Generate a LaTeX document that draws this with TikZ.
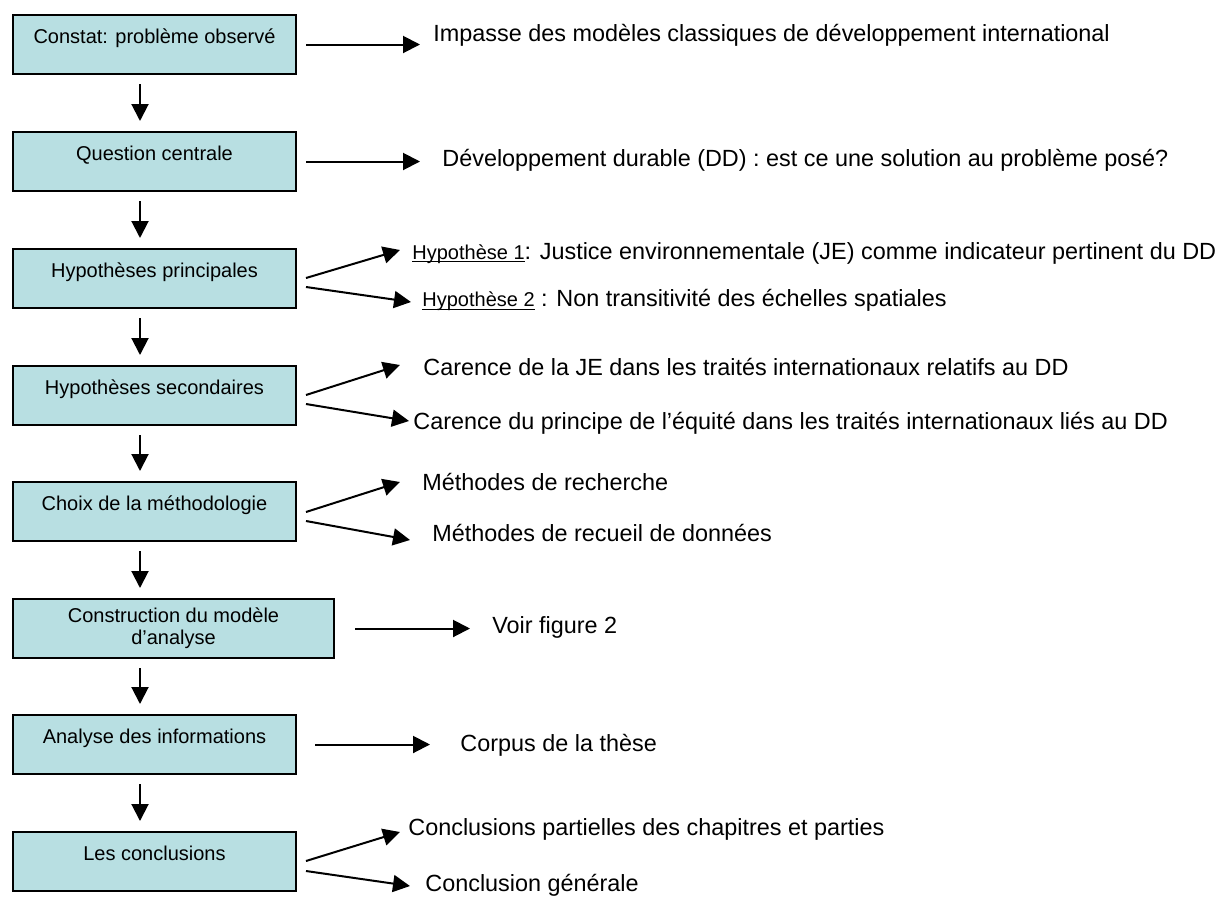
\documentclass[tikz,border=0pt]{standalone}
\usepackage{fontspec}
\setmainfont{Liberation Sans}
\usetikzlibrary{calc,positioning,arrows.meta}
\definecolor{boite}{RGB}{184,223,226}
\newcommand{\hyp}[1]{{\fontsize{10}{12}\selectfont\underline{\smash{#1}}}}

\begin{document}
\begin{tikzpicture}[x=0.5pt,y=-0.5pt,
etape/.style={draw,line width=1pt,fill=boite,anchor=north west,minimum width=141.5pt,minimum height=29.5pt,inner sep=0pt,font=\fontsize{10}{11}\selectfont,text height=7.5pt,text depth=9pt},
texte/.style={anchor=west,inner sep=0pt,font=\fontsize{11.7}{14}\selectfont},
fleche/.style={line width=1pt,-{Triangle[length=8.5pt,width=8.5pt]}}]
\useasboundingbox (0,0) rectangle (1232,906);
% les etapes
\node [etape] (Constat) at (12,14) {Constat: problème observé};
\node [etape] (Question) at (12,131) {Question centrale};
\node [etape] (HypPrinc) at (12,248) {Hypothèses principales};
\node [etape] (HypSec) at (12,365) {Hypothèses secondaires};
\node [etape] (Methodo) at (12,481) {Choix de la méthodologie};
\node [etape,minimum width=160.5pt,align=center,text height={},text depth={}] (Modele) at (12,598) {Construction du modèle\\d’analyse};
\node [etape] (Analyse) at (12,714) {Analyse des informations};
\node [etape] (Conclusions) at (12,831) {Les conclusions};
% les textes a droite
\node [texte] (Impasse) at (433,35) {Impasse des modèles classiques de développement international};
\node [texte] (DD) at (442,160) {Développement durable (DD) : est ce une solution au problème posé?};
\node [texte] (HypUn) at (412,253) {\hyp{Hypothèse 1}: Justice environnementale (JE) comme indicateur pertinent du DD};
\node [texte] (HypDeux) at (422,300) {\hyp{Hypothèse 2} : Non transitivité des échelles spatiales};
\node [texte] (CarenceJE) at (423,367) {Carence de la JE dans les traités internationaux relatifs au DD};
\node [texte] (CarenceEq) at (413,423) {Carence du principe de l’équité dans les traités internationaux liés au DD};
\node [texte] (Recherche) at (422,482) {Méthodes de recherche};
\node [texte] (Recueil) at (432,533) {Méthodes de recueil de données};
\node [texte] (Voir) at (492,627) {Voir figure 2};
\node [texte] (Corpus) at (460,745) {Corpus de la thèse};
\node [texte] (Partielles) at (408,829) {Conclusions partielles des chapitres et parties};
\node [texte] (Generale) at (425,885) {Conclusion générale};
% fleches verticales
\draw [fleche] ($(Constat.south)+(-14.5,9)$) -- ($(Question.north)+(-14.5,-10)$);
\draw [fleche] ($(Question.south)+(-14.5,9)$) -- ($(HypPrinc.north)+(-14.5,-10)$);
\draw [fleche] ($(HypPrinc.south)+(-14.5,9)$) -- ($(HypSec.north)+(-14.5,-10)$);
\draw [fleche] ($(HypSec.south)+(-14.5,9)$) -- ($(Methodo.north)+(-14.5,-10)$);
\draw [fleche] ($(Methodo.south)+(-14.5,9)$) -- ($(Methodo.south |- Modele.north)+(-14.5,-10)$);
\draw [fleche] ($(Analyse.north |- Modele.south)+(-14.5,9)$) -- ($(Analyse.north)+(-14.5,-10)$);
\draw [fleche] ($(Analyse.south)+(-14.5,9)$) -- ($(Conclusions.north)+(-14.5,-10)$);
% fleches vers la droite
\draw [fleche] ($(Constat.east)+(9,0)$) -- ($(Constat.east -| Impasse.west)+(-13,0)$);
\draw [fleche] ($(Question.east)+(9,0)$) -- ($(Question.east -| DD.west)+(-22,0)$);
\draw [fleche] ($(HypPrinc.east)+(9,-0.5)$) -- ($(HypUn.west)+(-12,-3)$);
\draw [fleche] ($(HypPrinc.east)+(9,8.5)$) -- ($(HypDeux.west)+(-11,2)$);
\draw [fleche] ($(HypSec.east)+(9,-0.5)$) -- ($(CarenceJE.west)+(-23,-2)$);
\draw [fleche] ($(HypSec.east)+(9,8.5)$) -- ($(CarenceEq.west)+(-4,-2)$);
\draw [fleche] ($(Methodo.east)+(9,0.5)$) -- ($(Recherche.west)+(-22,0)$);
\draw [fleche] ($(Methodo.east)+(9,9.5)$) -- ($(Recueil.west)+(-22,7)$);
\draw [fleche] ($(Modele.east)+(20,0)$) -- ($(Modele.east -| Voir.west)+(-22,0)$);
\draw [fleche] ($(Analyse.east)+(18,0)$) -- ($(Analyse.east -| Corpus.west)+(-30,0)$);
\draw [fleche] ($(Conclusions.east)+(9,-0.5)$) -- ($(Partielles.west)+(-8,3)$);
\draw [fleche] ($(Conclusions.east)+(9,9.5)$) -- ($(Generale.west)+(-15,1)$);
\end{tikzpicture}
\end{document}
